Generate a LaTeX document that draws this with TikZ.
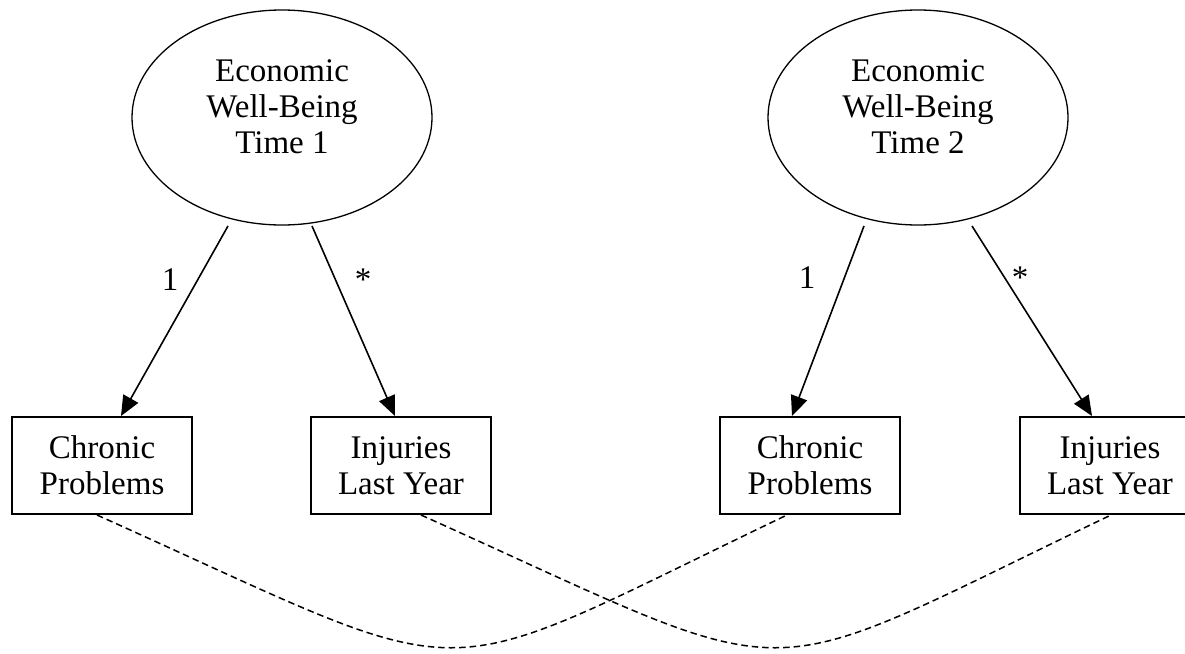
\documentclass[tikz,border=0pt]{standalone}
\usepackage{fontspec}
\setmainfont{Liberation Serif}
\usetikzlibrary{shapes.geometric,arrows.meta,calc}

\tikzset{
  latent/.style={draw, ellipse, line width=1.3pt, minimum width=300pt,
    minimum height=215pt, inner sep=0pt},
  ltext/.style={align=center, inner sep=0pt, font=\fontsize{33}{36}\selectfont},
  observed/.style={draw, rectangle, line width=2pt, minimum width=180pt,
    minimum height=97pt, inner sep=0pt, align=center,
    font=\fontsize{33}{36}\selectfont},
  loading/.style={line width=1.6pt, -{Triangle[length=20pt,width=17pt]}},
  errcov/.style={line width=1.5pt, dash pattern=on 6.5pt off 4pt},
  coef/.style={anchor=base, inner sep=0pt, font=\fontsize{33}{36}\selectfont}
}

\begin{document}
\begin{tikzpicture}[x=1pt, y=-1pt]
  \useasboundingbox (0,0) rectangle (1185,653);
  \clip (0,0) rectangle (1185,653);

  % latent factors
  \node[latent] (e1) at (282,117.5) {};
  \node[ltext] (t1) at ([yshift=11pt]e1.center) {Economic\\Well-Being\\Time 1};
  \node[latent] (e2) at (918,117.5) {};
  \node[ltext] (t2) at ([yshift=11pt]e2.center) {Economic\\Well-Being\\Time 2};

  % indicators
  \node[observed] (c1) at (102,465.5)  {Chronic\\Problems};
  \node[observed] (i1) at (401,465.5)  {Injuries\\Last Year};
  \node[observed] (c2) at (810,465.5)  {Chronic\\Problems};
  \node[observed] (i2) at (1110,465.5) {Injuries\\Last Year};

  % factor loadings
  \draw[loading] ($(e1.center)+(-54,108.5)$) -- ([xshift=19pt]c1.north);
  \draw[loading] ($(e1.center)+(30,108.5)$)  -- ([xshift=-6pt]i1.north);
  \draw[loading] ($(e2.center)+(-54,108.5)$) -- ([xshift=-18pt]c2.north);
  \draw[loading] ($(e2.center)+(54,108.5)$)  -- ([xshift=-18pt]i2.north);

  \node[coef] (l1) at (170,290)  {1};
  \node[coef] (l2) at (363,290)  {*};
  \node[coef] (l3) at (807,288)  {1};
  \node[coef] (l4) at (1020,288) {*};

  % correlated errors across time
  \draw[errcov] ([xshift=-5pt]c1.south) .. controls +(394,177) and +(-370,177) .. ([xshift=-23pt]c2.south);
  \draw[errcov] ([xshift=20pt]i1.south) .. controls +(394,177) and +(-370,177) .. ([xshift=1pt]i2.south);
\end{tikzpicture}
\end{document}
